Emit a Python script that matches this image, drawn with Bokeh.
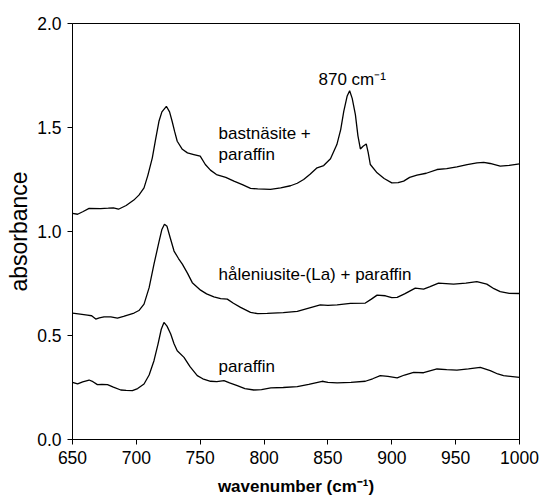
from bokeh.plotting import figure
from bokeh.models import Range1d, FixedTicker, CustomJSTickFormatter, Label
from bokeh.embed import file_html
from bokeh.resources import INLINE

# --- data ---
bast_x = [650, 654, 658, 663, 672, 678, 682, 686, 692, 698, 702, 706, 709, 712.5, 715, 717.7, 720, 723.5, 726, 728, 730, 732, 736, 740, 745, 750, 754, 758, 762.7, 770, 776.4, 783, 789.4, 795, 805, 813, 820.7, 826, 831, 836, 841.5, 846.7, 852, 857, 860, 862.4, 865, 867, 869, 871.5, 873.5, 875.4, 877.5, 880, 881.5, 883.2, 888.5, 894, 900, 905, 909.3, 914, 919.7, 927, 935.4, 943, 951, 959, 966.7, 972, 977, 984.9, 992, 1000]
bast_y = [1.087, 1.083, 1.095, 1.111, 1.11, 1.112, 1.114, 1.107, 1.125, 1.151, 1.175, 1.21, 1.27, 1.354, 1.44, 1.53, 1.575, 1.602, 1.575, 1.53, 1.48, 1.434, 1.395, 1.378, 1.37, 1.362, 1.322, 1.295, 1.274, 1.26, 1.242, 1.225, 1.207, 1.205, 1.203, 1.21, 1.22, 1.232, 1.25, 1.275, 1.306, 1.317, 1.35, 1.418, 1.49, 1.578, 1.65, 1.677, 1.64, 1.562, 1.46, 1.397, 1.41, 1.421, 1.38, 1.322, 1.282, 1.255, 1.234, 1.235, 1.242, 1.26, 1.271, 1.28, 1.298, 1.302, 1.311, 1.322, 1.33, 1.332, 1.327, 1.314, 1.318, 1.325]

hal_x = [650, 656, 661.7, 665, 668.2, 671, 674.7, 680, 685.2, 690, 698.2, 702, 706, 710, 713.8, 717.7, 720, 722, 724, 726.5, 729.5, 733, 736, 740, 743.8, 750.3, 755, 760.7, 766, 771.2, 776, 781.6, 789.4, 795, 802.5, 815, 826, 835, 844, 850, 857.2, 867.6, 879.3, 884, 888.5, 895, 900, 904.2, 910, 918.4, 924.9, 930, 936.6, 948.4, 958, 966.6, 974.4, 980, 984.9, 992, 1000]
hal_y = [0.608, 0.603, 0.598, 0.595, 0.579, 0.585, 0.590, 0.590, 0.584, 0.592, 0.608, 0.62, 0.651, 0.73, 0.843, 0.95, 1.01, 1.035, 1.025, 0.97, 0.906, 0.87, 0.843, 0.80, 0.754, 0.718, 0.70, 0.686, 0.677, 0.675, 0.655, 0.635, 0.611, 0.605, 0.606, 0.61, 0.616, 0.632, 0.647, 0.645, 0.647, 0.654, 0.656, 0.675, 0.694, 0.691, 0.682, 0.683, 0.70, 0.728, 0.723, 0.735, 0.752, 0.747, 0.752, 0.759, 0.747, 0.725, 0.711, 0.703, 0.702]

par_x = [650, 654, 658, 663, 666, 669.5, 673, 677.4, 682, 687.8, 692, 696.9, 701, 706, 710, 713.8, 717, 719.5, 721.6, 724, 726.9, 729.5, 732, 737.3, 742, 747.7, 752, 758.1, 763, 768.6, 773, 779, 785, 792, 798, 805.3, 815, 826, 835, 845.5, 850, 857.2, 868, 879.3, 885, 891, 897, 904.2, 910, 917.1, 924.9, 935.4, 943, 951, 960, 969.3, 977.1, 983, 987.5, 1000]
par_y = [0.275, 0.267, 0.277, 0.286, 0.278, 0.264, 0.265, 0.264, 0.252, 0.238, 0.236, 0.235, 0.245, 0.267, 0.31, 0.379, 0.46, 0.53, 0.563, 0.545, 0.507, 0.46, 0.427, 0.395, 0.35, 0.307, 0.292, 0.28, 0.278, 0.283, 0.272, 0.259, 0.245, 0.238, 0.24, 0.248, 0.25, 0.254, 0.265, 0.28, 0.275, 0.272, 0.275, 0.28, 0.292, 0.307, 0.303, 0.296, 0.31, 0.323, 0.321, 0.339, 0.336, 0.334, 0.34, 0.347, 0.331, 0.315, 0.307, 0.299]

x_ticks = [650, 700, 750, 800, 850, 900, 950, 1000]
y_ticks = [0.0, 0.5, 1.0, 1.5, 2.0]

label_texts = ["bastnäsite +", "paraffin", "håleniusite-(La) + paraffin", "paraffin", "870 cm⁻¹"]
label_x = [764.4, 764.4, 764.4, 764.4, 842.6]
label_y = [1.469, 1.370, 0.795, 0.352, 1.733]

FONT = "Liberation Sans"

p = figure(width=540, height=502, output_backend="svg", toolbar_location=None,
           x_range=Range1d(650, 1000), y_range=Range1d(0, 2.0),
           min_border_left=72, min_border_right=21, min_border_top=23, min_border_bottom=63)
p.grid.visible = False
p.outline_line_color = "black"
p.outline_line_width = 1
p.background_fill_color = "white"
p.border_fill_color = "white"

for xs, ys in [(bast_x, bast_y), (hal_x, hal_y), (par_x, par_y)]:
    p.line(xs, ys, line_color="black", line_width=1.3)

p.xaxis.ticker = FixedTicker(ticks=x_ticks)
p.yaxis.ticker = FixedTicker(ticks=y_ticks)
p.yaxis.formatter = CustomJSTickFormatter(code="return tick.toFixed(1);")
for ax in (p.xaxis[0], p.yaxis[0]):
    ax.minor_tick_line_color = None
    ax.major_tick_out = 5
    ax.major_tick_in = 0
    ax.major_label_text_font = FONT
    ax.major_label_text_font_size = "17.5px"
    ax.major_label_text_color = "black"
    ax.major_label_standoff = 6
    ax.axis_label_text_font = FONT
    ax.axis_label_text_color = "black"
    ax.axis_line_color = "black"
    ax.major_tick_line_color = "black"

p.xaxis.axis_label = "wavenumber (cm⁻¹)"
p.xaxis.axis_label_text_font_style = "bold"
p.xaxis.axis_label_text_font_size = "17px"
p.xaxis.axis_label_standoff = 10
p.yaxis.axis_label = "absorbance"
p.yaxis.axis_label_text_font_style = "normal"
p.yaxis.axis_label_text_font_size = "23px"
p.yaxis.axis_label_standoff = 2

for txt, lx, ly in zip(label_texts, label_x, label_y):
    p.add_layout(Label(x=lx, y=ly, text=txt, text_font=FONT, text_font_size="17px",
                       text_color="black", text_baseline="alphabetic", text_align="left"))

open("out.html", "w").write(file_html(p, INLINE))
